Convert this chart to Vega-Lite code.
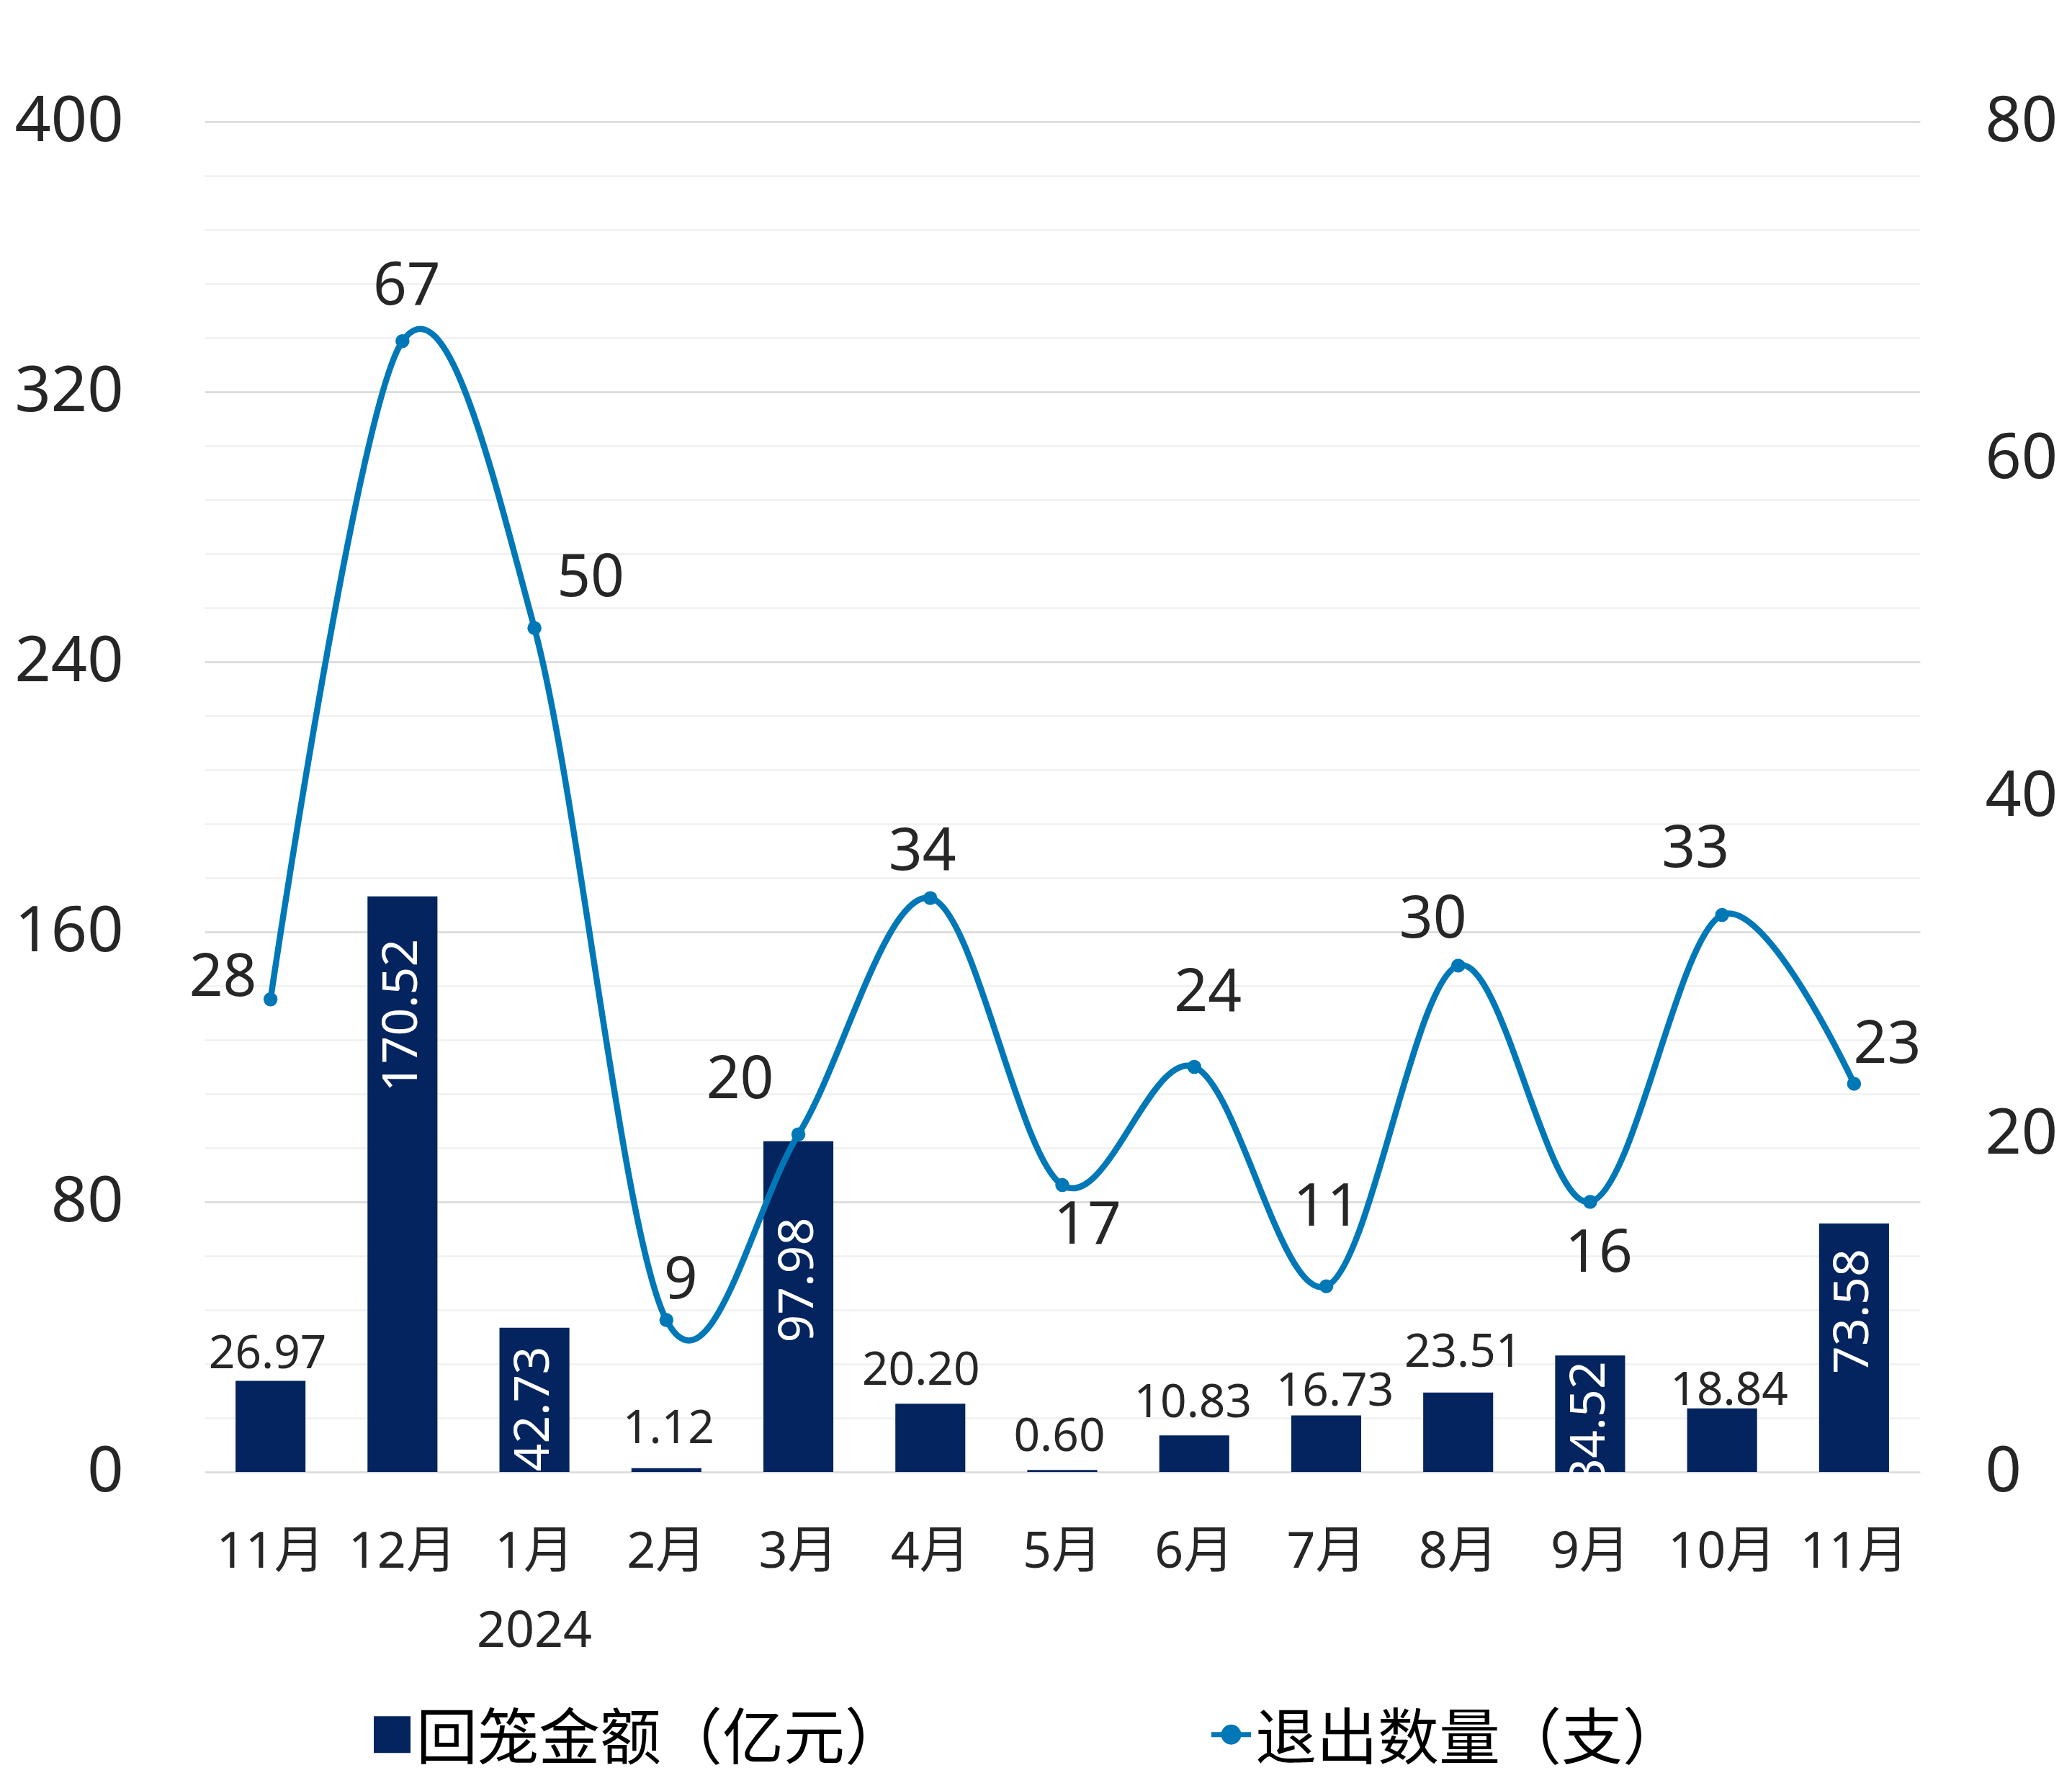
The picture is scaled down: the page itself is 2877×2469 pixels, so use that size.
{
  "$schema": "https://vega.github.io/schema/vega-lite/v6.json",
  "width": 2382,
  "height": 1875,
  "autosize": {"type": "none"},
  "padding": {"left": 284, "top": 169, "right": 211, "bottom": 425},
  "background": "white",
  "config": {
    "view": {"stroke": null},
    "font": "Noto Sans, Noto Sans CJK SC, sans-serif",
    "style": {
      "lineLabel": {"font": "Noto Sans, Noto Sans CJK SC, sans-serif", "fontSize": 82, "color": "#262626", "align": "center", "baseline": "middle"},
      "barOut": {"font": "Noto Sans, Noto Sans CJK SC, sans-serif", "fontSize": 64, "color": "#262626", "align": "center", "baseline": "alphabetic"},
      "barIn": {"font": "Noto Sans, Noto Sans CJK SC, sans-serif", "fontSize": 68, "color": "#FFFFFF", "align": "right", "baseline": "middle", "angle": 270}
    }
  },
  "data": {
    "values": [
      {"period": "2023-11", "amount": 26.97, "count": 28},
      {"period": "2023-12", "amount": 170.52, "count": 67},
      {"period": "2024-01", "amount": 42.73, "count": 50},
      {"period": "2024-02", "amount": 1.12, "count": 9},
      {"period": "2024-03", "amount": 97.98, "count": 20},
      {"period": "2024-04", "amount": 20.20, "count": 34},
      {"period": "2024-05", "amount": 0.60, "count": 17},
      {"period": "2024-06", "amount": 10.83, "count": 24},
      {"period": "2024-07", "amount": 16.73, "count": 11},
      {"period": "2024-08", "amount": 23.51, "count": 30},
      {"period": "2024-09", "amount": 34.52, "count": 16},
      {"period": "2024-10", "amount": 18.84, "count": 33},
      {"period": "2024-11", "amount": 73.58, "count": 23}
    ]
  },
  "encoding": {
    "x": {
      "field": "period",
      "type": "nominal",
      "sort": null,
      "scale": {"paddingInner": 0.47, "paddingOuter": 0.235},
      "axis": {
        "title": null,
        "domain": false,
        "ticks": false,
        "tickSize": 0,
        "labelAngle": 0,
        "labelFont": "Noto Sans, Noto Sans CJK SC, sans-serif",
        "labelFontSize": 70,
        "labelColor": "#262626",
        "labelPadding": 77,
        "labelBaseline": "top",
        "labelLineHeight": 110,
        "labelOverlap": false,
        "labelExpr": "datum.value === '2024-01' ? ['1月', '2024'] : toNumber(slice(datum.value, 5)) + '月'"
      }
    }
  },
  "layer": [
    {
      "encoding": {
        "y": {
          "field": "amount",
          "type": "quantitative",
          "scale": {"domain": [0, 400], "nice": false, "zero": true},
          "axis": {
            "title": null,
            "orient": "left",
            "values": [0, 16, 32, 48, 64, 80, 96, 112, 128, 144, 160, 176, 192, 208, 224, 240, 256, 272, 288, 304, 320, 336, 352, 368, 384, 400],
            "grid": true,
            "gridColor": {"condition": {"test": "datum.value % 80 === 0", "value": "#D9D9D9"}, "value": "#F0F0F0"},
            "gridWidth": 2.5,
            "domain": false,
            "ticks": false,
            "tickSize": 0,
            "labelExpr": "datum.value % 80 === 0 ? datum.label : ''",
            "labelFont": "Noto Sans, sans-serif",
            "labelFontSize": 88,
            "labelColor": "#262626",
            "labelPadding": 113
          }
        }
      },
      "layer": [
        {
          "mark": {"type": "bar"},
          "encoding": {
            "color": {
              "datum": "回笼金额（亿元）",
              "type": "nominal",
              "scale": {"domain": ["回笼金额（亿元）", "退出数量（支）"], "range": ["#03245E", "#0078B7"]},
              "legend": {
                "orient": "none",
                "legendX": 218,
                "legendY": 2197,
                "direction": "horizontal",
                "title": null,
                "padding": 0,
                "labelFont": "Noto Sans CJK SC, sans-serif",
                "labelFontSize": 85,
                "labelColor": "#000000",
                "labelLimit": 2000,
                "labelOffset": -9,
                "symbolSize": 2601,
                "columnPadding": 408,
                "encode": {
                  "symbols": {
                    "update": {
                      "shape": {"signal": "datum.value === '退出数量（支）' ? 'M-1.08,0H1.08M-0.41,0A0.41,0.41,0,1,0,0.41,0A0.41,0.41,0,1,0,-0.41,0Z' : 'square'"},
                      "fill": {"signal": "datum.value === '退出数量（支）' ? '#0078B7' : '#03245E'"},
                      "stroke": {"signal": "datum.value === '退出数量（支）' ? '#0078B7' : '#03245E'"},
                      "strokeWidth": {"signal": "datum.value === '退出数量（支）' ? 7 : 0"},
                      "opacity": {"value": 1},
                      "fillOpacity": {"value": 1},
                      "strokeOpacity": {"value": 1}
                    }
                  },
                  "labels": {"update": {"dy": {"value": 8}}}
                }
              }
            }
          }
        },
        {
          "encoding": {"text": {"field": "amount", "type": "quantitative", "format": ".2f"}},
          "layer": [
            {"transform": [{"filter": "datum.period === '2023-11'"}], "mark": {"type": "text", "style": "barOut", "dx": -4, "dy": -18}},
            {"transform": [{"filter": "datum.period === '2024-02'"}], "mark": {"type": "text", "style": "barOut", "dx": 3, "dy": -35}},
            {"transform": [{"filter": "datum.period === '2024-04'"}], "mark": {"type": "text", "style": "barOut", "dx": -13, "dy": -26}},
            {"transform": [{"filter": "datum.period === '2024-05'"}], "mark": {"type": "text", "style": "barOut", "dx": -4, "dy": -26}},
            {"transform": [{"filter": "datum.period === '2024-06'"}], "mark": {"type": "text", "style": "barOut", "dx": -2, "dy": -25}},
            {"transform": [{"filter": "datum.period === '2024-07'"}], "mark": {"type": "text", "style": "barOut", "dx": 12, "dy": -14}},
            {"transform": [{"filter": "datum.period === '2024-08'"}], "mark": {"type": "text", "style": "barOut", "dx": 7, "dy": -36}},
            {"transform": [{"filter": "datum.period === '2024-10'"}], "mark": {"type": "text", "style": "barOut", "dx": 10, "dy": -5}},
            {"transform": [{"filter": "datum.period === '2023-12'"}], "mark": {"type": "text", "style": "barIn", "dx": -59}},
            {"transform": [{"filter": "datum.period === '2024-01'"}], "mark": {"type": "text", "style": "barIn", "dx": -26}},
            {"transform": [{"filter": "datum.period === '2024-03'"}], "mark": {"type": "text", "style": "barIn", "dx": -106}},
            {"transform": [{"filter": "datum.period === '2024-09'"}], "mark": {"type": "text", "style": "barIn", "dx": -8}},
            {"transform": [{"filter": "datum.period === '2024-11'"}], "mark": {"type": "text", "style": "barIn", "dx": -35}}
          ]
        }
      ]
    },
    {
      "encoding": {
        "y": {
          "field": "count",
          "type": "quantitative",
          "scale": {"domain": [0, 80], "nice": false, "zero": true},
          "axis": {
            "title": null,
            "orient": "right",
            "values": [0, 20, 40, 60, 80],
            "grid": false,
            "domain": false,
            "ticks": false,
            "tickSize": 0,
            "labelFont": "Noto Sans, sans-serif",
            "labelFontSize": 88,
            "labelColor": "#262626",
            "labelPadding": 90
          }
        }
      },
      "layer": [
        {
          "mark": {"type": "line", "interpolate": "cardinal", "strokeWidth": 8.5, "point": {"filled": true, "size": 380}},
          "encoding": {"color": {"datum": "退出数量（支）", "type": "nominal"}}
        },
        {
          "encoding": {"text": {"field": "count", "type": "quantitative"}},
          "layer": [
            {"transform": [{"filter": "datum.period === '2023-11'"}], "mark": {"type": "text", "style": "lineLabel", "dx": -66, "dy": -30}},
            {"transform": [{"filter": "datum.period === '2023-12'"}], "mark": {"type": "text", "style": "lineLabel", "dx": 6, "dy": -76}},
            {"transform": [{"filter": "datum.period === '2024-01'"}], "mark": {"type": "text", "style": "lineLabel", "dx": 78, "dy": -69}},
            {"transform": [{"filter": "datum.period === '2024-02'"}], "mark": {"type": "text", "style": "lineLabel", "dx": 20, "dy": -55}},
            {"transform": [{"filter": "datum.period === '2024-03'"}], "mark": {"type": "text", "style": "lineLabel", "dx": -81, "dy": -75}},
            {"transform": [{"filter": "datum.period === '2024-04'"}], "mark": {"type": "text", "style": "lineLabel", "dx": -11, "dy": -64}},
            {"transform": [{"filter": "datum.period === '2024-05'"}], "mark": {"type": "text", "style": "lineLabel", "dx": 35, "dy": 56}},
            {"transform": [{"filter": "datum.period === '2024-06'"}], "mark": {"type": "text", "style": "lineLabel", "dx": 19, "dy": -103}},
            {"transform": [{"filter": "datum.period === '2024-07'"}], "mark": {"type": "text", "style": "lineLabel", "dx": 1, "dy": -109}},
            {"transform": [{"filter": "datum.period === '2024-08'"}], "mark": {"type": "text", "style": "lineLabel", "dx": -35, "dy": -64}},
            {"transform": [{"filter": "datum.period === '2024-09'"}], "mark": {"type": "text", "style": "lineLabel", "dx": 12, "dy": 72}},
            {"transform": [{"filter": "datum.period === '2024-10'"}], "mark": {"type": "text", "style": "lineLabel", "dx": -37, "dy": -92}},
            {"transform": [{"filter": "datum.period === '2024-11'"}], "mark": {"type": "text", "style": "lineLabel", "dx": 46, "dy": -54}}
          ]
        }
      ]
    }
  ],
  "resolve": {"scale": {"y": "independent"}}
}
